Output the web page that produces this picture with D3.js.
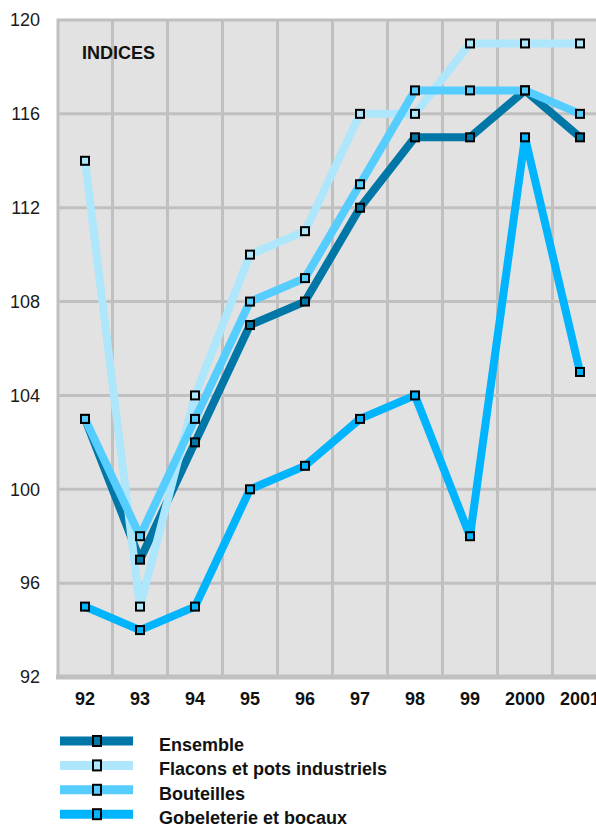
<!DOCTYPE html>
<html>
<head>
<meta charset="utf-8">
<script src="https://cdn.jsdelivr.net/npm/d3@7"></script>
<style>
  body { margin: 0; background: #fff; }
  svg { display: block; font-family: "Liberation Sans", Arial, sans-serif; }
</style>
</head>
<body>
<svg id="chart" width="596" height="826"></svg>
<script>

var years = ["92", "93", "94", "95", "96", "97", "98", "99", "2000", "2001"];
var yTicks = [92, 96, 100, 104, 108, 112, 116, 120];

var ensemble    = [103, 97, 102, 107, 108, 112, 115, 115, 117, 115];
var flacons     = [114, 95, 104, 110, 111, 116, 116, 119, 119, 119];
var bouteilles  = [103, 98, 103, 108, 109, 113, 117, 117, 117, 116];
var gobeleterie = [95, 94, 95, 100, 101, 103, 104, 98, 115, 105];

var seriesNames = ["Ensemble", "Flacons et pots industriels", "Bouteilles", "Gobeleterie et bocaux"];
var seriesColors = ["#0077a6", "#aee6fc", "#55cdfe", "#00b4fd"];

var series = [ensemble, flacons, bouteilles, gobeleterie].map(function(v, i) {
  return { name: seriesNames[i], color: seriesColors[i], values: v };
});

var svg = d3.select("#chart");

// note: "top" is taken by window.top, so plot* names
var plotLeft = 58, plotTop = 20, plotBottom = 677, plotRight = 608;

var x = d3.scaleBand().domain(years).range([57.5, 607.5]);
var y = d3.scaleLinear().domain([92, 120]).range([plotBottom, plotTop]);

// plot background
svg.append("rect")
  .attr("x", plotLeft)
  .attr("y", plotTop)
  .attr("width", plotRight - plotLeft)
  .attr("height", plotBottom - plotTop)
  .attr("fill", "#e2e2e2");

var grid = svg.append("g").attr("stroke", "#c0c0c0");

grid.selectAll("line.h")
  .data(yTicks.filter(function(d) { return d > 92; }))
  .enter()
  .append("line")
  .attr("class", "h")
  .attr("x1", plotLeft)
  .attr("x2", plotRight)
  .attr("y1", function(d) { return y(d); })
  .attr("y2", function(d) { return y(d); })
  .attr("stroke-width", 3);

grid.selectAll("line.v")
  .data(years)
  .enter()
  .append("line")
  .attr("class", "v")
  .attr("x1", function(d) { return x(d) + x.bandwidth(); })
  .attr("x2", function(d) { return x(d) + x.bandwidth(); })
  .attr("y1", plotTop)
  .attr("y2", plotBottom)
  .attr("stroke-width", 3);

// left and bottom borders
grid.append("line")
  .attr("x1", plotLeft).attr("x2", plotLeft)
  .attr("y1", plotTop - 1.5).attr("y2", plotBottom)
  .attr("stroke-width", 3);

grid.append("line")
  .attr("x1", plotLeft - 2).attr("x2", plotRight)
  .attr("y1", plotBottom).attr("y2", plotBottom)
  .attr("stroke-width", 5);

// axes
var yAxis = d3.axisLeft(y).tickValues(yTicks).tickSize(0).tickPadding(18);
svg.append("g")
  .attr("transform", "translate(" + plotLeft + ",0)")
  .call(yAxis)
  .call(function(g) { g.select(".domain").remove(); })
  .selectAll("text")
  .attr("font-size", 18)
  .attr("fill", "#1a1a1a");

var xAxis = d3.axisBottom(x).tickSize(0).tickPadding(15);
svg.append("g")
  .attr("transform", "translate(0," + plotBottom + ")")
  .call(xAxis)
  .call(function(g) { g.select(".domain").remove(); })
  .selectAll("text")
  .attr("font-size", 18)
  .attr("font-weight", "bold")
  .attr("fill", "#111");

svg.append("text")
  .attr("x", 82)
  .attr("y", 59)
  .attr("font-size", 18)
  .attr("font-weight", "bold")
  .attr("fill", "#111")
  .text("INDICES");

// lines
var line = d3.line()
  .x(function(d, i) { return x(years[i]) + x.bandwidth() / 2; })
  .y(function(d) { return y(d); });

svg.selectAll("path.serie")
  .data(series)
  .enter()
  .append("path")
  .attr("class", "serie")
  .attr("d", function(s) { return line(s.values); })
  .attr("fill", "none")
  .attr("stroke", function(s) { return s.color; })
  .attr("stroke-width", 8)
  .attr("stroke-linejoin", "bevel");

// markers
series.forEach(function(s) {
  svg.append("g").selectAll("rect")
    .data(s.values)
    .enter()
    .append("rect")
    .attr("x", function(d, i) { return x(years[i]) + x.bandwidth() / 2 - 4; })
    .attr("y", function(d) { return y(d) - 4; })
    .attr("width", 8)
    .attr("height", 8)
    .attr("fill", s.color)
    .attr("stroke", "#000")
    .attr("stroke-width", 2);
});

// legend
var legend = svg.selectAll("g.legend")
  .data(series)
  .enter()
  .append("g")
  .attr("class", "legend")
  .attr("transform", function(s, i) { return "translate(0," + (741 + i * 24.4) + ")"; });

legend.append("line")
  .attr("x1", 60).attr("x2", 133)
  .attr("stroke", function(s) { return s.color; })
  .attr("stroke-width", 9);

legend.append("rect")
  .attr("x", 93).attr("y", -5)
  .attr("width", 8).attr("height", 10)
  .attr("fill", function(s) { return s.color; })
  .attr("stroke", "#000")
  .attr("stroke-width", 2);

legend.append("text")
  .attr("x", 159)
  .attr("y", 10)
  .attr("font-size", 18)
  .attr("font-weight", "bold")
  .attr("fill", "#111")
  .text(function(s) { return s.name; });

</script>
</body>
</html>
